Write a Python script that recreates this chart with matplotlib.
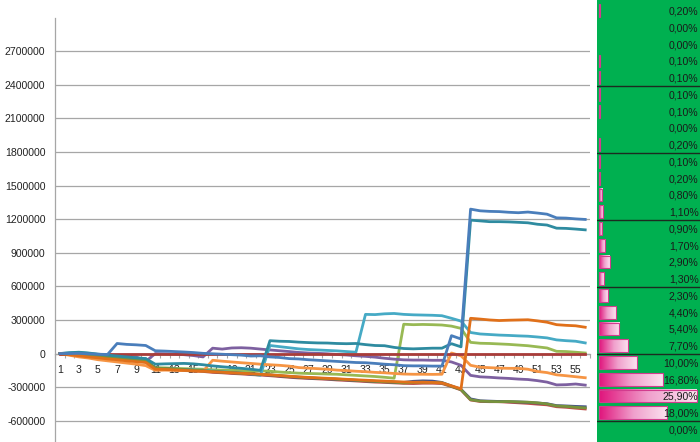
import matplotlib
matplotlib.use('Agg')
import matplotlib.pyplot as plt
import numpy as np
from matplotlib.patches import Rectangle
from matplotlib.colors import LinearSegmentedColormap
from matplotlib.ticker import FixedLocator, FuncFormatter

plt.rcParams['font.family'] = ['Liberation Sans', 'DejaVu Sans']
plt.rcParams['axes.unicode_minus'] = False

categories = list(range(1, 57))
y_ticks = [-600000, -300000, 0, 300000, 600000, 900000, 1200000, 1500000,
           1800000, 2100000, 2400000, 2700000]
x_labels = list(range(1, 56, 2))

s_blue = [0, 0, 2000, -3000, -6000, -8000, 90000, 82000, 78000, 72000,
          25000, 22000, 18000, 14000, 9000, 2000, -2000, -6000, -10000, -14000,
          -22000, -20000, -30000, -35000, -45000, -48000, -55000, -60000, -65000, -70000,
          -75000, -80000, -82000, -88000, -95000, -100000, -108000, -110000, -110000, -112000,
          -112000, 160000, 130000, 1290000, 1275000, 1270000, 1268000, 1262000, 1258000, 1264000,
          1255000, 1245000, 1212000, 1210000, 1203000, 1198000]
s_red = [0, -8000, -15000, -25000, -33000, -42000, -50000, -58000, -66000, -75000,
         -135000, -140000, -145000, -150000, -155000, -160000, -168000, -172000, -178000, -182000,
         -188000, -192000, -198000, -205000, -212000, -218000, -222000, -226000, -230000, -236000,
         -240000, -245000, -250000, -255000, -258000, -262000, -266000, -268000, -265000, -265000,
         -268000, -295000, -325000, -415000, -428000, -430000, -430000, -435000, -440000, -445000,
         -452000, -458000, -475000, -480000, -488000, -495000]
s_green = [0, -3000, -8000, -15000, -25000, -32000, -40000, -50000, -60000, -70000,
           -130000, -128000, -132000, -135000, -138000, -140000, -145000, -148000, -150000, -152000,
           -153000, -155000, -158000, -165000, -170000, -175000, -178000, -180000, -183000, -185000,
           -190000, -195000, -200000, -205000, -212000, -220000, 262000, 258000, 260000, 258000,
           255000, 245000, 225000, 100000, 92000, 90000, 86000, 82000, 76000, 70000,
           60000, 50000, 20000, 18000, 12000, 5000]
s_purple = [0, -2000, -5000, -8000, -12000, -15000, -20000, -25000, -30000, -70000,
            0, -2000, -5000, -10000, -18000, -30000, 48000, 40000, 50000, 52000,
            48000, 40000, 32000, 25000, 18000, 10000, 5000, 2000, -2000, -8000,
            -13000, -20000, -25000, -32000, -42000, -50000, -56000, -58000, -58000, -60000,
            -60000, -75000, -105000, -195000, -208000, -212000, -218000, -222000, -228000, -232000,
            -242000, -255000, -280000, -278000, -272000, -282000]
s_aqua = [0, 5000, 10000, 2000, -8000, -16000, -24000, -32000, -40000, -45000,
          -140000, -140000, -138000, -142000, -145000, -150000, -155000, -162000, -168000, -175000,
          -182000, -195000, 72000, 62000, 52000, 42000, 36000, 32000, 28000, 24000,
          18000, 12000, 350000, 348000, 355000, 358000, 350000, 346000, 344000, 342000,
          338000, 315000, 290000, 188000, 175000, 170000, 165000, 162000, 158000, 155000,
          148000, 140000, 122000, 115000, 110000, 95000]
s_orange = [0, -15000, -30000, -40000, -55000, -65000, -75000, -85000, -95000, -108000,
            -150000, -148000, -150000, -152000, -155000, -158000, -60000, -68000, -75000, -82000,
            -88000, -95000, -100000, -105000, -112000, -125000, -130000, -135000, -140000, -148000,
            -152000, -158000, -162000, -168000, -172000, -178000, -183000, -185000, -185000, -186000,
            -185000, 5000, -20000, -105000, -122000, -126000, -130000, -132000, -132000, -140000,
            -160000, -170000, -190000, -198000, -207000, -216000]
s_navy = [0, -6000, -12000, -20000, -28000, -36000, -44000, -52000, -60000, -68000,
          -130000, -135000, -140000, -145000, -150000, -155000, -162000, -167000, -172000, -177000,
          -182000, -187000, -192000, -200000, -207000, -213000, -218000, -222000, -226000, -230000,
          -235000, -240000, -244000, -248000, -252000, -256000, -258000, -248000, -244000, -246000,
          -258000, -290000, -320000, -405000, -422000, -425000, -428000, -430000, -432000, -436000,
          -442000, -448000, -465000, -468000, -472000, -475000]
s_darkred = [0, 0, 0, 0, 0, 0, 0, 0, 0, 0,
             0, 0, 0, 0, 0, 0, 0, 0, 0, 0,
             0, 0, 0, 0, 0, 0, 0, 0, 0, 0,
             0, 0, 0, 0, 0, 0, 0, 0, 0, 0,
             0, 0, 0, 0, 0, 0, 0, 0, 0, 0,
             0, 0, 0, 0, 0, 0]
s_olive = [0, -5000, -10000, -18000, -26000, -34000, -42000, -50000, -58000, -66000,
           -128000, -133000, -138000, -143000, -148000, -153000, -160000, -165000, -170000, -175000,
           -180000, -185000, -190000, -197000, -204000, -210000, -215000, -220000, -224000, -228000,
           -233000, -238000, -243000, -248000, -252000, -256000, -262000, -258000, -256000, -258000,
           -262000, -292000, -322000, -412000, -425000, -428000, -430000, -428000, -432000, -434000,
           -440000, -450000, -468000, -472000, -480000, -485000]
s_teal = [0, 8000, 12000, 5000, -5000, -14000, -22000, -30000, -38000, -45000,
          -95000, -92000, -90000, -88000, -92000, -100000, -110000, -118000, -125000, -132000,
          -140000, -150000, 115000, 110000, 108000, 102000, 98000, 95000, 94000, 90000,
          88000, 90000, 80000, 72000, 70000, 55000, 45000, 42000, 45000, 48000,
          48000, 88000, 60000, 1192000, 1185000, 1178000, 1178000, 1176000, 1172000, 1168000,
          1155000, 1148000, 1120000, 1118000, 1112000, 1105000]
s_darkorange = [0, -10000, -20000, -30000, -38000, -48000, -55000, -65000, -72000, -80000,
                -140000, -142000, -146000, -150000, -154000, -158000, -163000, -167000, -172000, -176000,
                -180000, -185000, -190000, -196000, -202000, -208000, -213000, -217000, -221000, -225000,
                -230000, -234000, -238000, -242000, -246000, -250000, -254000, -256000, -256000, -258000,
                -262000, -288000, -315000, 315000, 308000, 300000, 295000, 298000, 300000, 302000,
                292000, 280000, 258000, 252000, 248000, 235000]

series = [
    (s_red, '#BE4B48', 2),
    (s_green, '#98B954', 2),
    (s_purple, '#7D60A0', 2),
    (s_aqua, '#46AAC5', 2),
    (s_orange, '#F69544', 2),
    (s_navy, '#44508A', 2),
    (s_darkred, '#A83C39', 2),
    (s_olive, '#77933C', 2),
    (s_teal, '#2E8BA0', 2),
    (s_darkorange, '#E0701A', 2),
    (s_blue, '#4A7EBB', 3),
]

pct_values = [0.20, 0.00, 0.00, 0.10, 0.10, 0.10, 0.10, 0.00, 0.20, 0.10,
              0.20, 0.80, 1.10, 0.90, 1.70, 2.90, 1.30, 2.30, 4.40, 5.40,
              7.70, 10.00, 16.80, 25.90, 18.00, 0.00]
pct_labels = ['0,20%', '0,00%', '0,00%', '0,10%', '0,10%', '0,10%', '0,10%', '0,00%', '0,20%', '0,10%',
              '0,20%', '0,80%', '1,10%', '0,90%', '1,70%', '2,90%', '1,30%', '2,30%', '4,40%', '5,40%',
              '7,70%', '10,00%', '16,80%', '25,90%', '18,00%', '0,00%']
group_breaks = [5, 9, 13, 17, 21, 25]

W, H = 700, 442
fig = plt.figure(figsize=(W / 100, H / 100), dpi=100)
fig.patch.set_facecolor('white')

# ---- main line chart ----
ax = fig.add_axes([55 / W, 0, 535 / W, (H - 17.7) / H])
for vals, col, z in series:
    ax.plot(categories, vals, color=col, lw=2.0, zorder=z, solid_joinstyle='round')

ax.set_xlim(0.5, 56.5)
ax.set_ylim(-790000, 3000000)
ax.yaxis.set_major_locator(FixedLocator(y_ticks))
ax.yaxis.set_major_formatter(FuncFormatter(lambda v, p: f"{int(v)}"))
ax.grid(axis='y', color='#A6A6A6', lw=0.9, zorder=0)
ax.set_axisbelow(True)
ax.tick_params(axis='y', length=0, pad=7, labelsize=7.6, labelcolor='#222222')

ax.xaxis.set_major_locator(FixedLocator(x_labels))
ax.xaxis.set_major_formatter(FuncFormatter(lambda v, p: f"{int(round(v))}"))
ax.xaxis.set_minor_locator(FixedLocator(np.arange(0.5, 57, 1)))
ax.tick_params(axis='x', which='major', length=0, pad=8, labelsize=7.6, labelcolor='#222222')
ax.tick_params(axis='x', which='minor', length=3, width=0.8, color='#A6A6A6', direction='out')

for s in ['top', 'right']:
    ax.spines[s].set_visible(False)
ax.spines['left'].set_color('#A6A6A6')
ax.spines['left'].set_linewidth(0.9)
ax.spines['bottom'].set_position(('data', 0))
ax.spines['bottom'].set_color('#A6A6A6')
ax.spines['bottom'].set_linewidth(0.9)
ax.spines['bottom'].set_zorder(1)

# ---- right data-bar panel ----
ax2 = fig.add_axes([597 / W, 0, 103 / W, 1])
ax2.set_axis_off()
ax2.add_patch(Rectangle((597, 0), 103, H, facecolor='#00B050', edgecolor='none', zorder=0))
row_h = 16.75
row0 = 1.85
bar_x0 = 599
px_per_pct = 3.78
cmap = LinearSegmentedColormap.from_list('pinkbar', ['#E0147C', '#F0A0CC', '#FBE3F0'])
grad = np.linspace(0, 1, 256).reshape(1, -1)
for i, (v, lab) in enumerate(zip(pct_values, pct_labels)):
    top = row0 + i * row_h
    bot = top + row_h
    if v > 0:
        wpx = max(v * px_per_pct, 0.6)
        y0, y1 = top + 2.5, bot - 1.5
        if wpx > 2:
            ax2.imshow(grad, cmap=cmap, extent=(bar_x0, bar_x0 + wpx, y1, y0),
                       aspect='auto', interpolation='bilinear', zorder=1)
        ax2.add_patch(Rectangle((bar_x0, y0), wpx, y1 - y0, facecolor='none',
                                edgecolor='#D23C8E', lw=0.8, zorder=2))
    ax2.text(698.5, top + row_h / 2 + 1.3, lab, ha='right', va='center',
             fontsize=7.6, color='#1A1A1A', zorder=3)
for b in group_breaks:
    yb = row0 + b * row_h
    ax2.plot([597, 700], [yb, yb], color='#1C2B20', lw=1.0, zorder=3)
ax2.set_xlim(597, 700)
ax2.set_ylim(H, 0)

fig.savefig('out.png', dpi=100)
